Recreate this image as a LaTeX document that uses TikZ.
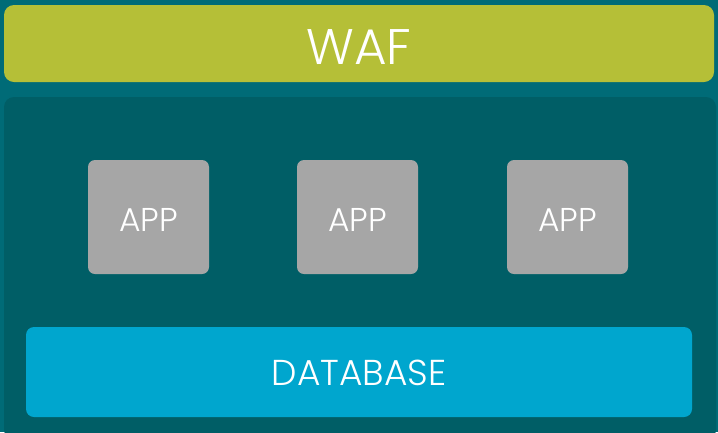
\documentclass[tikz,border=0pt]{standalone}
\usepackage{fontspec}
\setmainfont{Poppins Light}
\definecolor{bgteal}{RGB}{0,107,119}
\definecolor{tierteal}{RGB}{0,94,102}
\definecolor{wafgreen}{RGB}{181,191,55}
\definecolor{dbblue}{RGB}{0,166,206}
\definecolor{appgray}{RGB}{166,166,166}
\begin{document}
\begin{tikzpicture}[x=1pt,y=-1pt,
  tier/.style={fill=#1, draw=none, rounded corners=10pt, inner sep=0pt, text=white},
  lbl/.style={anchor=center, inner sep=0pt, text=white}]
  \fill[bgteal] (0,0) rectangle (718,432);
  \useasboundingbox (0,0) rectangle (718,432);
  % firewall band
  \path[tier=wafgreen] (4,5) rectangle (714,82);
  \node[lbl, font=\fontsize{50}{50}\selectfont] (waf) at (359,47) {WAF};
  % application tier container
  \path[tier=tierteal] (4,97) rectangle (716,440);
  % app servers
  \foreach \x/\n in {88/a1, 297/a2, 507/a3}{
    \path[tier=appgray, rounded corners=7pt] (\x,160) rectangle ++(121,114);
    \node[lbl, font=\fontsize{33}{33}\selectfont] (\n) at (\x+60.5,219.5) {APP};
  }
  % database band
  \path[tier=dbblue, rounded corners=8pt] (26,327) rectangle (692,417);
  \node[lbl, font=\fontsize{36}{36}\selectfont] (db) at (359,373) {DATABASE};
\end{tikzpicture}
\end{document}
